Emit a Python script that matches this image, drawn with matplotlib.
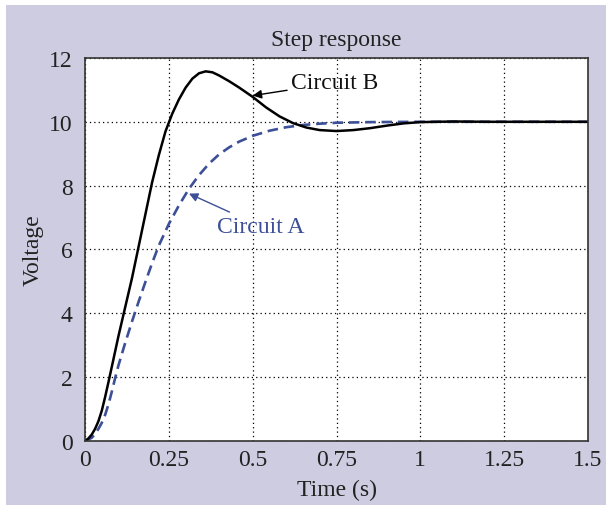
import matplotlib
matplotlib.use("Agg")
import matplotlib.pyplot as plt

# Circuit B (solid black) - underdamped response
t_b = [0.0, 0.01, 0.02, 0.03, 0.04, 0.05, 0.06, 0.07, 0.08, 0.10, 0.12, 0.14, 0.16,
       0.18, 0.20, 0.22, 0.24, 0.26, 0.28, 0.30, 0.32, 0.34, 0.36, 0.38, 0.40, 0.43,
       0.46, 0.50, 0.54, 0.58, 0.62, 0.66, 0.70, 0.75, 0.80, 0.85, 0.90, 0.95, 1.00,
       1.10, 1.20, 1.50]
v_b = [0.0, 0.08, 0.2, 0.38, 0.62, 0.95, 1.38, 1.85, 2.33, 3.3, 4.2, 5.1, 6.1,
       7.1, 8.1, 8.95, 9.7, 10.25, 10.7, 11.07, 11.35, 11.52, 11.58, 11.55, 11.45, 11.27,
       11.07, 10.78, 10.45, 10.17, 9.96, 9.82, 9.74, 9.71, 9.74, 9.8, 9.88, 9.95, 9.99,
       10.01, 10.0, 10.0]

# Circuit A (dashed blue)
t_a = [0.0, 0.02, 0.03, 0.04, 0.05, 0.06, 0.07, 0.08, 0.09, 0.10, 0.12, 0.14, 0.16,
       0.18, 0.20, 0.22, 0.25, 0.28, 0.31, 0.34, 0.37, 0.40, 0.43, 0.46, 0.50, 0.55,
       0.60, 0.65, 0.70, 0.75, 0.85, 1.00, 1.50]
v_a = [0.0, 0.1, 0.22, 0.38, 0.57, 0.82, 1.15, 1.55, 1.98, 2.38, 3.08, 3.74, 4.37,
       4.98, 5.57, 6.12, 6.8, 7.38, 7.9, 8.33, 8.69, 8.98, 9.2, 9.38, 9.56, 9.72,
       9.83, 9.9, 9.94, 9.97, 9.99, 10.0, 10.0]

x_ticks = [0, 0.25, 0.5, 0.75, 1, 1.25, 1.5]
x_ticklabels = ["0", "0.25", "0.5", "0.75", "1", "1.25", "1.5"]
y_ticks = [0, 2, 4, 6, 8, 10, 12]

blue = "#3c4f97"
panel = "#cdcce0"

plt.rcParams["font.family"] = ["Liberation Serif", "DejaVu Serif"]

fig = plt.figure(figsize=(6.06, 5.06), dpi=100)
fig.patches.append(plt.Rectangle((0.0099, 0.0), 1.0, 0.988, transform=fig.transFigure,
                                 facecolor=panel, edgecolor="none", zorder=-10))
# axes box: x 85..588 px, y 59..442 px
ax = fig.add_axes([0.1403, 0.1265, 0.830, 0.757])

ax.plot(t_a, v_a, color=blue, lw=1.9, dashes=(4, 2.2))
ax.plot(t_b, v_b, color="black", lw=1.8)

ax.set_xlim(0, 1.5)
ax.set_ylim(0, 12)
ax.set_xticks(x_ticks)
ax.set_xticklabels(x_ticklabels)
ax.set_yticks(y_ticks)
ax.tick_params(length=0, labelsize=17, colors="#222222")
ax.tick_params(axis="x", pad=6)
ax.tick_params(axis="y", pad=9)
ax.grid(True, color="black", linestyle=(0, (1, 2.5)), lw=0.9)
for s in ax.spines.values():
    s.set_color("#333333")
    s.set_linewidth(1.2)

ax.set_title("Step response", fontsize=17, pad=9, color="#222222")
ax.set_xlabel("Time (s)", fontsize=17, labelpad=6, color="#222222")
ax.set_ylabel("Voltage", fontsize=17, labelpad=4, color="#222222")

ax.annotate("Circuit B", xy=(0.5, 10.82), xytext=(0.615, 11.22), fontsize=17,
            va="center", ha="left", color="#111111",
            arrowprops=dict(arrowstyle="-|>", color="black", lw=1.0,
                            shrinkA=1, shrinkB=0, mutation_scale=13))
ax.annotate("Circuit A", xy=(0.31, 7.75), xytext=(0.395, 6.72), fontsize=17,
            va="center", ha="left", color=blue,
            arrowprops=dict(arrowstyle="-|>", color=blue, lw=1.0,
                            shrinkA=2, shrinkB=0, mutation_scale=13))

fig.savefig("out.png", dpi=100)
